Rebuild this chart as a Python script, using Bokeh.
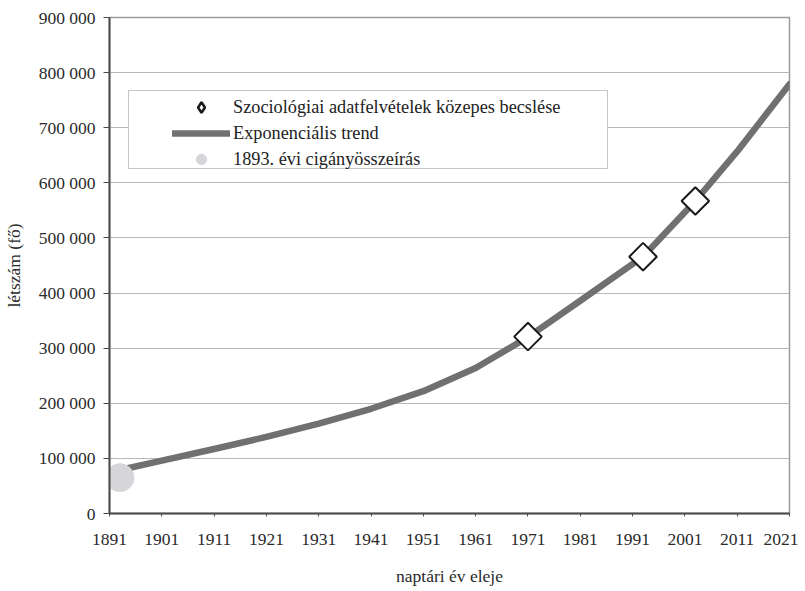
import numpy as np
from bokeh.plotting import figure
from bokeh.models import Range1d, FixedTicker, Legend, LegendItem, ColumnDataSource
from bokeh.embed import file_html
from bokeh.resources import INLINE

# ---- data ----
trend_years = [1893, 1901, 1911, 1921, 1931, 1941, 1951, 1961, 1971, 1981, 1993, 2003, 2011, 2021]
trend_values = [79000, 96000, 117000, 139000, 163000, 190000, 222000, 264000, 320000, 386000,
                466000, 567000, 657000, 779000]
survey_years = [1971, 1993, 2003]
survey_values = [321000, 466000, 567000]
census_years = [1893]
census_values = [65000]

x_ticks = [1891, 1901, 1911, 1921, 1931, 1941, 1951, 1961, 1971, 1981, 1991, 2001, 2011, 2021]
y_ticks = [0, 100000, 200000, 300000, 400000, 500000, 600000, 700000, 800000, 900000]
y_tick_labels = ["0", "100 000", "200 000", "300 000", "400 000", "500 000",
                 "600 000", "700 000", "800 000", "900 000"]

legend_labels = ["Szociológiai adatfelvételek közepes becslése",
                 "Exponenciális trend",
                 "1893. évi cigányösszeírás"]
x_title = "naptári év eleje"
y_title = "létszám (fő)"

FONT = "Liberation Serif"

p = figure(width=798, height=588, output_backend="svg", toolbar_location=None,
           x_range=Range1d(1891, 2021), y_range=Range1d(0, 900000),
           min_border_left=107, min_border_right=9, min_border_top=17, min_border_bottom=71)
p.background_fill_color = "white"
p.border_fill_color = "white"
p.outline_line_color = "#9a9a9a"
p.outline_line_width = 1.5

# grid
p.xgrid.grid_line_color = None
p.ygrid.grid_line_color = "#b8b8b8"
p.ygrid.grid_line_width = 1
p.ygrid.ticker = FixedTicker(ticks=y_ticks)

# axes
p.xaxis.ticker = FixedTicker(ticks=x_ticks)
p.yaxis.ticker = FixedTicker(ticks=y_ticks)
p.yaxis.major_label_overrides = {t: l for t, l in zip(y_ticks, y_tick_labels)}
for ax in (p.xaxis[0], p.yaxis[0]):
    ax.axis_line_color = "#4a4a4a"
    ax.axis_line_width = 2
    ax.major_tick_line_color = "#4a4a4a"
    ax.major_tick_line_width = 1
    ax.minor_tick_line_color = None
    ax.major_label_text_font = FONT
    ax.major_label_text_font_size = "17.5px"
    ax.major_label_text_color = "#2a2a2a"
    ax.axis_label_text_font = FONT
    ax.axis_label_text_font_size = "17.5px"
    ax.axis_label_text_font_style = "normal"
    ax.axis_label_text_color = "#2a2a2a"
p.xaxis.major_tick_out = 3
p.xaxis.major_tick_in = 0
p.xaxis.major_label_standoff = 17
p.xaxis.axis_label_standoff = 18
p.yaxis.major_tick_out = 6
p.yaxis.major_tick_in = 0
p.yaxis.major_label_standoff = 8
p.yaxis.axis_label_standoff = 12
p.xaxis.axis_label = x_title
p.yaxis.axis_label = y_title

# trend line
trend_src = ColumnDataSource(dict(x=trend_years, y=trend_values))
trend = p.line("x", "y", source=trend_src, line_color="#707070", line_width=6.5,
               line_join="round", line_cap="round")

# census point
census_src = ColumnDataSource(dict(x=census_years, y=census_values))
census = p.scatter("x", "y", source=census_src, marker="circle", size=28,
                   fill_color="#d5d5da", line_color="#d5d5da", line_width=1)

# survey points: a small legend-style diamond underneath, rotated squares on top
survey_src = ColumnDataSource(dict(x=survey_years, y=survey_values))
leg_diamond = p.scatter("x", "y", source=survey_src, marker="diamond", size=10,
                        fill_color="white", line_color="#1a1a1a", line_width=2.5)
survey = p.scatter("x", "y", source=survey_src, marker="square", angle=np.pi / 4, size=19.5,
                   fill_color="white", line_color="#1a1a1a", line_width=2)

# invisible renderer used only to size the legend frame
leg_box = p.scatter("x", "y", source=census_src, marker="circle", size=1,
                    fill_alpha=0, line_alpha=0)

# legend frame (background box)
box_legend = Legend(items=[LegendItem(label=" ", renderers=[leg_box])],
                    location=(19, 344), orientation="vertical",
                    padding=0, spacing=0, margin=0,
                    glyph_width=1, glyph_height=77, label_height=77, label_width=477,
                    label_standoff=0,
                    border_line_color="#8c8c8c", border_line_width=1.2,
                    background_fill_color="white", background_fill_alpha=1.0,
                    label_text_font_size="2px")
p.add_layout(box_legend, "center")

legend = Legend(items=[LegendItem(label=legend_labels[0], renderers=[leg_diamond]),
                       LegendItem(label=legend_labels[1], renderers=[trend]),
                       LegendItem(label=legend_labels[2], renderers=[census])],
                location=(63, 341), orientation="vertical",
                padding=0, spacing=0, margin=0,
                glyph_width=58, glyph_height=26, label_height=20, label_standoff=3,
                border_line_alpha=0, background_fill_alpha=0,
                label_text_font=FONT, label_text_font_size="18.3px",
                label_text_color="#222222")
p.add_layout(legend, "center")

open("out.html", "w").write(file_html(p, INLINE))
